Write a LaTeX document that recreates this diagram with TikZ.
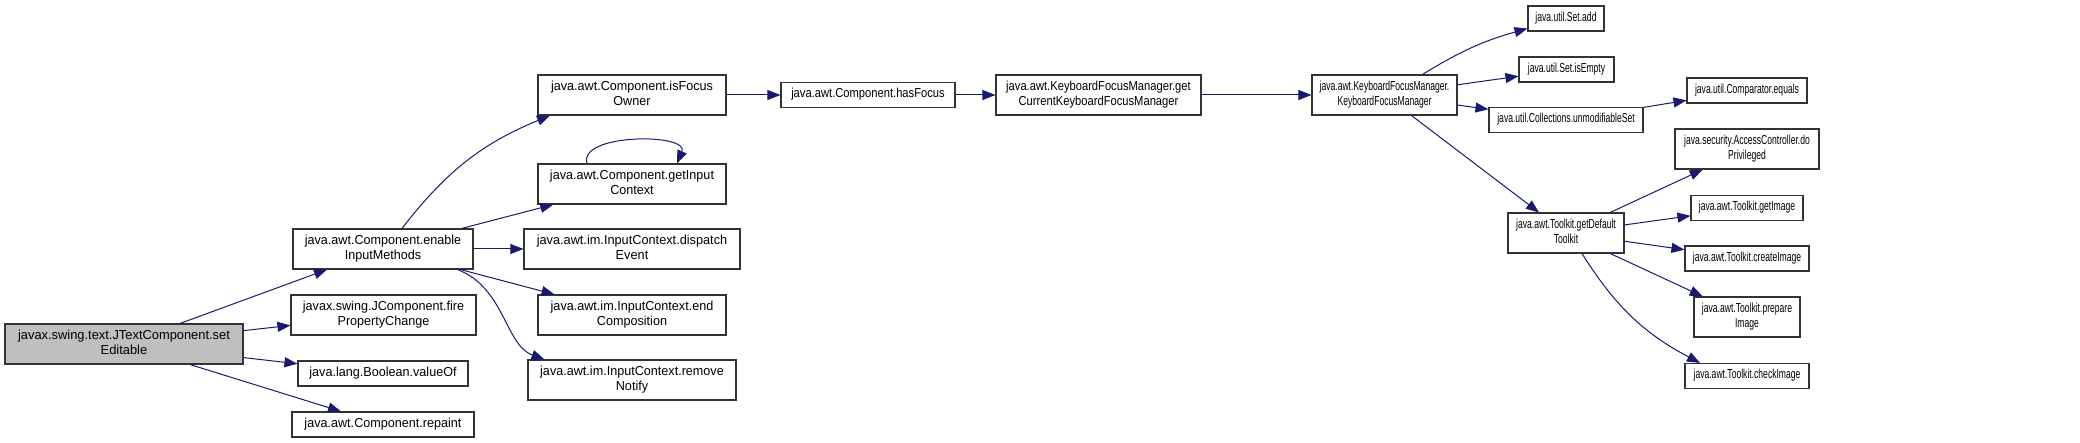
\documentclass[tikz,border=0pt]{standalone}
\usepackage{fontspec}
\setmainfont{Liberation Sans}
\usepackage{graphicx}
\usetikzlibrary{arrows.meta,calc}
\definecolor{edgecol}{HTML}{191970}
\definecolor{rootfill}{HTML}{BFBFBF}
\newcommand{\lbl}[2]{\scalebox{#1}[1]{\begin{tabular}{@{}c@{}}#2\end{tabular}}}
\begin{document}
\begin{tikzpicture}[x=1pt,y=-1pt,
  fnbox/.style={draw=black!80, line width=1.1pt, fill=white, rectangle, inner sep=0pt,
    font=\fontsize{13}{14.5}\selectfont},
  two/.style={minimum height=40pt},
  one/.style={minimum height=25pt},
  edge/.style={draw=edgecol, line width=1pt, -{Triangle[length=13pt,width=10pt]}},
]
\useasboundingbox (0,0) rectangle (2080,443);

% column 0
\node[fnbox, two, fill=rootfill, minimum width=238pt] (se) at (124,344)
  {\lbl{0.99}{javax.swing.text.JTextComponent.set\\Editable}};
% column 1
\node[fnbox, two, minimum width=180pt] (en) at (383,249)
  {\lbl{0.97}{java.awt.Component.enable\\InputMethods}};
\node[fnbox, two, minimum width=185pt] (fpc) at (383.5,315)
  {\lbl{0.97}{javax.swing.JComponent.fire\\PropertyChange}};
\node[fnbox, one, minimum width=170pt] (bvo) at (383,373.5)
  {\lbl{0.97}{java.lang.Boolean.valueOf}};
\node[fnbox, one, minimum width=182pt] (rp) at (383,424.5)
  {\lbl{0.97}{java.awt.Component.repaint}};
% column 2
\node[fnbox, two, minimum width=188pt] (ifo) at (632,95)
  {\lbl{0.97}{java.awt.Component.isFocus\\Owner}};
\node[fnbox, two, minimum width=188pt] (gic) at (632,184)
  {\lbl{0.97}{java.awt.Component.getInput\\Context}};
\node[fnbox, two, minimum width=216pt] (dev) at (632,249)
  {\lbl{0.98}{java.awt.im.InputContext.dispatch\\Event}};
\node[fnbox, two, minimum width=188pt] (ec) at (632,315)
  {\lbl{0.97}{java.awt.im.InputContext.end\\Composition}};
\node[fnbox, two, minimum width=208pt] (rn) at (632,380)
  {\lbl{0.97}{java.awt.im.InputContext.remove\\Notify}};
% middle
\node[fnbox, one, minimum width=174pt] (hf) at (868,95)
  {\lbl{0.86}{java.awt.Component.hasFocus}};
\node[fnbox, two, minimum width=205pt] (gck) at (1098.5,95)
  {\lbl{0.86}{java.awt.KeyboardFocusManager.get\\CurrentKeyboardFocusManager}};
% right part
\node[fnbox, two, minimum width=145pt] (kfm) at (1384.5,95)
  {\lbl{0.66}{java.awt.KeyboardFocusManager.\\KeyboardFocusManager}};
\node[fnbox, one, minimum width=76pt] (sa) at (1566,18.5)
  {\lbl{0.66}{java.util.Set.add}};
\node[fnbox, one, minimum width=95pt] (sie) at (1566.5,69.5)
  {\lbl{0.66}{java.util.Set.isEmpty}};
\node[fnbox, one, minimum width=154pt] (cus) at (1566,120)
  {\lbl{0.66}{java.util.Collections.unmodifiableSet}};
\node[fnbox, two, minimum width=116pt] (gdt) at (1566,233)
  {\lbl{0.66}{java.awt.Toolkit.getDefault\\Toolkit}};
\node[fnbox, one, minimum width=120pt] (ceq) at (1747,90.5)
  {\lbl{0.66}{java.util.Comparator.equals}};
\node[fnbox, two, minimum width=144pt] (dp) at (1747,149)
  {\lbl{0.66}{java.security.AccessController.do\\Privileged}};
\node[fnbox, one, minimum width=112pt] (gi) at (1747,208)
  {\lbl{0.66}{java.awt.Toolkit.getImage}};
\node[fnbox, one, minimum width=124pt] (cri) at (1747,258.5)
  {\lbl{0.66}{java.awt.Toolkit.createImage}};
\node[fnbox, two, minimum width=106pt] (pi) at (1747,317)
  {\lbl{0.66}{java.awt.Toolkit.prepare\\Image}};
\node[fnbox, one, minimum width=124pt] (chi) at (1747,376)
  {\lbl{0.66}{java.awt.Toolkit.checkImage}};

% edges
\draw[edge] (se) -- (en);
\draw[edge] (se) -- (fpc);
\draw[edge] (se) -- (bvo);
\draw[edge] (se) -- (rp);
\draw[edge] ([xshift=19pt]en.north) to[bend left=15] ([xshift=-82pt]ifo.south);
\draw[edge] (en) -- (gic);
\draw[edge] (en) -- (dev);
\draw[edge] (en) -- (ec);
\draw[edge] ([xshift=-16pt]en.south east) .. controls (505,288) and (505,345) .. ([xshift=17pt]rn.north west);
\draw[edge] ([xshift=-45pt]gic.north) .. controls (578,133) and (690,133) .. ([xshift=45pt]gic.north);
\draw[edge] (ifo) -- (hf);
\draw[edge] (hf) -- (gck);
\draw[edge] (gck) -- (kfm);
\draw[edge] ([xshift=38pt]kfm.north) to[bend left=8] ([yshift=3pt]sa.south west);
\draw[edge] (kfm) -- (sie);
\draw[edge] (kfm) -- (cus);
\draw[edge] (kfm) -- (gdt);
\draw[edge] (cus) -- (ceq);
\draw[edge] (gdt) -- (dp);
\draw[edge] (gdt) -- (gi);
\draw[edge] (gdt) -- (cri);
\draw[edge] (gdt) -- (pi);
\draw[edge] ([xshift=16pt]gdt.south) to[bend right=15] ([xshift=-47pt]chi.north);
\end{tikzpicture}
\end{document}
